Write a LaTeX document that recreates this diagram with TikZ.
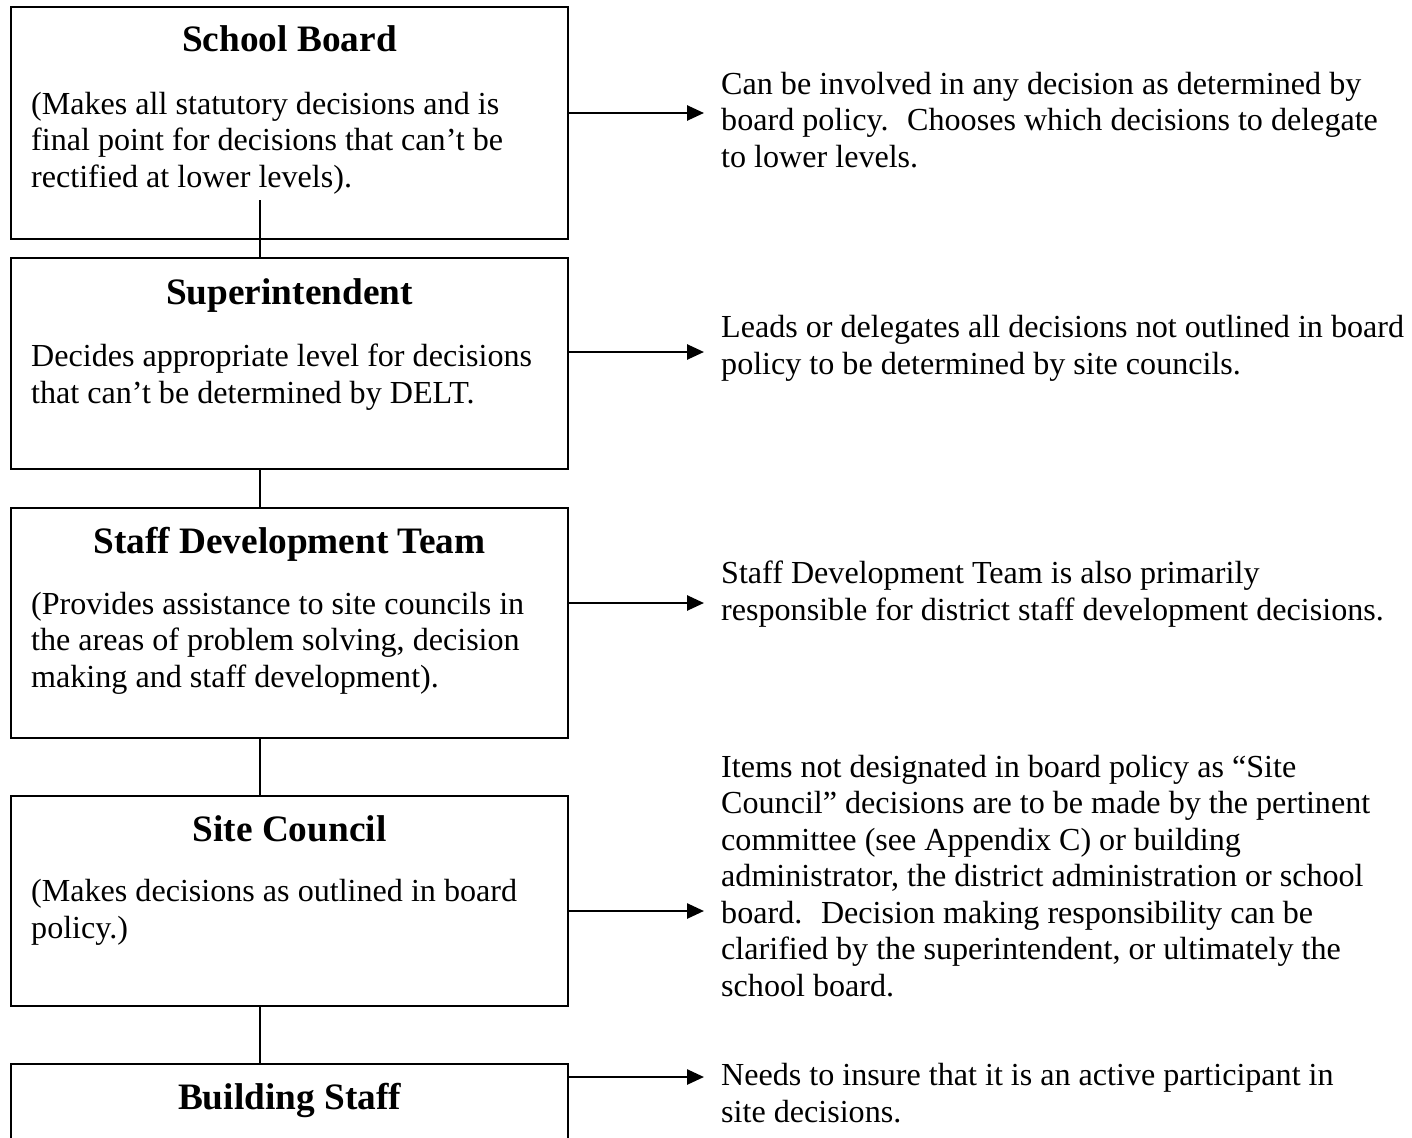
\documentclass[tikz,border=0pt]{standalone}
\usepackage{fontspec}
\setmainfont{Liberation Serif}
\usetikzlibrary{arrows.meta}
\begin{document}
\begin{tikzpicture}[x=1pt,y=-1pt,
  boxstyle/.style={draw, line width=2pt, rectangle, inner sep=0pt, outer sep=0pt, minimum width=557pt, anchor=north west},
  titletext/.style={font=\fontsize{37.3}{42}\selectfont\bfseries, anchor=base, inner sep=0pt},
  bodytext/.style={font=\fontsize{32.1}{36.5}\selectfont, anchor=base west, align=left, inner sep=0pt},
  link/.style={line width=2pt},
  arr/.style={line width=2.6pt, -{Triangle[length=17pt,width=15pt]}}]
\useasboundingbox (0,0) rectangle (1412,1137);
\clip (0,0) rectangle (1412,1137);
% boxes
\node[boxstyle, minimum height=232pt] (b1) at (11,7) {};
\node[boxstyle, minimum height=211pt] (b2) at (11,258) {};
\node[boxstyle, minimum height=230pt] (b3) at (11,508) {};
\node[boxstyle, minimum height=210pt] (b4) at (11,796) {};
\node[boxstyle, minimum height=120pt] (b5) at (11,1064) {};
% titles
\node[titletext] (t1) at (289.5,52) {School Board};
\node[titletext] (t2) at (289.5,304) {Superintendent};
\node[titletext] (t3) at (289.5,553) {Staff Development Team};
\node[titletext] (t4) at (289.5,841) {Site Council};
\node[titletext] (t5) at (289.5,1109) {Building Staff};
% box texts (anchor = baseline of last line)
\node[bodytext] (d1) at (31,187) {(Makes all statutory decisions and is\\final point for decisions that can’t be\\rectified at lower levels).};
\node[bodytext] (d2) at (31,403) {Decides appropriate level for decisions\\that can’t be determined by DELT.};
\node[bodytext] (d3) at (31,687) {(Provides assistance to site councils in\\the areas of problem solving, decision\\making and staff development).};
\node[bodytext] (d4) at (31,938) {(Makes decisions as outlined in board\\policy.)};
% right texts
\node[bodytext] (r1) at (721,167) {Can be involved in any decision as determined by\\board policy.~ Chooses which decisions to delegate\\to lower levels.};
\node[bodytext] (r2) at (721,374) {Leads or delegates all decisions not outlined in board\\policy to be determined by site councils.};
\node[bodytext] (r3) at (721,620) {Staff Development Team is also primarily\\responsible for district staff development decisions.};
\node[bodytext] (r4) at (721,996) {Items not designated in board policy as “Site\\Council” decisions are to be made by the pertinent\\committee (see Appendix C) or building\\administrator, the district administration or school\\board.~ Decision making responsibility can be\\clarified by the superintendent, or ultimately the\\school board.};
\node[bodytext] (r5) at (721,1122) {Needs to insure that it is an active participant in\\site decisions.};
% vertical connectors
\coordinate (c1) at (260,200);
\draw[link] (c1) -- (c1 |- b2.north);
\draw[link] (b2.south -| c1) -- (b3.north -| c1);
\draw[link] (b3.south -| c1) -- (b4.north -| c1);
\draw[link] (b4.south -| c1) -- (b5.north -| c1);
% arrows
\coordinate (e1) at (704,113);
\coordinate (e2) at (704,352);
\coordinate (e3) at (704,603);
\coordinate (e4) at (704,911);
\coordinate (e5) at (704,1077);
\draw[arr] (b1.east |- e1) -- (e1);
\draw[arr] (b2.east |- e2) -- (e2);
\draw[arr] (b3.east |- e3) -- (e3);
\draw[arr] (b4.east |- e4) -- (e4);
\draw[arr] (b5.east |- e5) -- (e5);
\end{tikzpicture}
\end{document}
